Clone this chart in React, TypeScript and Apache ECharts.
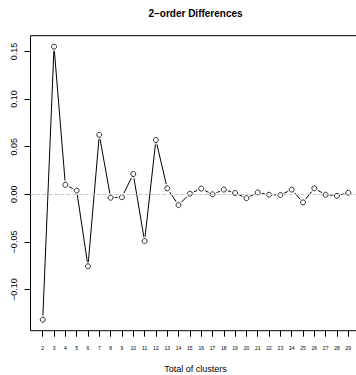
import React, { useEffect, useRef } from "react";
import * as echarts from "echarts";

const clusters = [2, 3, 4, 5, 6, 7, 8, 9, 10, 11, 12, 13, 14, 15, 16, 17, 18, 19, 20, 21, 22, 23, 24, 25, 26, 27, 28, 29];
const diffs = [
  -0.1316, 0.155, 0.01, 0.004, -0.0755, 0.0625, -0.0035, -0.003, 0.0213, -0.049,
  0.057, 0.0063, -0.0113, 0.0007, 0.006, 0.0, 0.005, 0.0014, -0.004, 0.002,
  -0.0004, -0.0007, 0.005, -0.0084, 0.0063, -0.0004, -0.0015, 0.0017,
];
const yTicks = [-0.1, -0.05, 0, 0.05, 0.1, 0.15];
const xRange = [0.92, 30.08];
const yRange = [-0.1431, 0.1665];
const title = "2\u2212order Differences";
const xName = "Total of clusters";

const FONT = "'Liberation Sans', Arial, Helvetica, sans-serif";

export default function App() {
  const ref = useRef<HTMLDivElement>(null);
  useEffect(() => {
    if (!ref.current) return;
    const chart = echarts.init(ref.current, undefined, { renderer: "svg" });
    const pts = clusters.map((c, i) => [c, diffs[i]]);
    chart.setOption({
      animation: false,
      backgroundColor: "#ffffff",
      textStyle: { fontFamily: FONT },
      graphic: [
        {
          type: "text",
          x: 195.5,
          y: 13,
          style: {
            text: title,
            fontFamily: FONT,
            fontWeight: "bold",
            fontSize: 10,
            fill: "#000",
            align: "center",
            verticalAlign: "middle",
          },
        },
      ],
      grid: {
        left: 30.5,
        top: 35.7,
        right: -4.5,
        bottom: 44.3,
        containLabel: false,
        outerBoundsMode: "none",
        show: true,
        borderColor: "#000",
        borderWidth: 1,
        backgroundColor: "transparent",
      },
      xAxis: {
        type: "value",
        min: xRange[0],
        max: xRange[1],
        name: xName,
        nameLocation: "middle",
        nameGap: 34,
        nameTextStyle: { fontFamily: FONT, fontSize: 9, color: "#000" },
        splitLine: { show: false },
        axisLine: { show: false, onZero: false },
        axisTick: {
          show: true,
          customValues: clusters,
          length: 6,
          lineStyle: { color: "#000", width: 1 },
        },
        axisLabel: {
          customValues: clusters,
          fontSize: 5,
          color: "#000",
          fontFamily: FONT,
          margin: 15,
        },
      },
      yAxis: {
        type: "value",
        min: yRange[0],
        max: yRange[1],
        splitLine: { show: false },
        axisLine: { show: false, onZero: false },
        axisTick: {
          show: true,
          customValues: yTicks,
          length: 6,
          lineStyle: { color: "#000", width: 1 },
        },
        axisLabel: {
          customValues: yTicks,
          rotate: 90,
          fontSize: 9,
          color: "#000",
          fontFamily: FONT,
          margin: 12,
          formatter: (v: number) => v.toFixed(2).replace("-", "\u2212"),
        },
      },
      series: [
        {
          type: "line",
          data: pts,
          symbol: "none",
          z: 2,
          lineStyle: { color: "#000", width: 1 },
        },
        {
          type: "scatter",
          data: pts,
          symbol: "circle",
          symbolSize: 9,
          z: 3,
          itemStyle: { color: "#fff", borderWidth: 0 },
          silent: true,
        },
        {
          type: "scatter",
          data: pts,
          symbol: "circle",
          symbolSize: 5,
          z: 4,
          itemStyle: { color: "#fff", borderColor: "#000", borderWidth: 1 },
          markLine: {
            silent: true,
            symbol: "none",
            label: { show: false },
            lineStyle: { color: "#c8c8c8", type: "dashed", width: 1 },
            data: [{ yAxis: 0 }],
          },
        },
      ],
    });
    return () => chart.dispose();
  }, []);
  return (
    <div
      ref={ref}
      style={{ position: "fixed", left: 0, top: 0, width: 356, height: 375 }}
    />
  );
}
